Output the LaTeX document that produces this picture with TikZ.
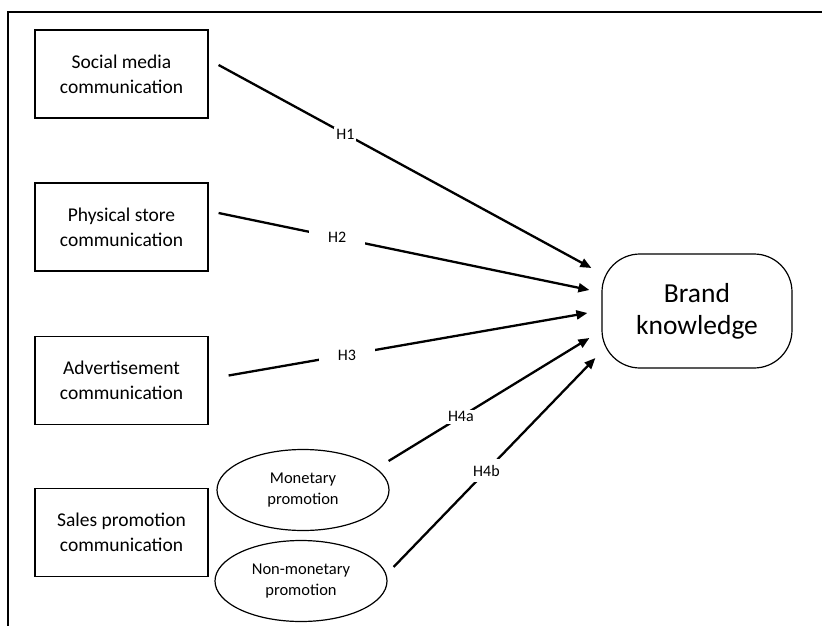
\documentclass[tikz,border=0pt]{standalone}
\usepackage{fontspec}
\setmainfont{Carlito}
\usepackage{tikz}
\usetikzlibrary{shapes.geometric,arrows.meta,positioning}
\tikzset{
  srcbox/.style={rectangle, draw, line width=1.2pt, minimum width=173pt, minimum height=88pt, align=center, font=\fontsize{19.5}{25}\selectfont},
  subell/.style={ellipse, draw, line width=1.2pt, minimum width=172pt, minimum height=81pt, inner sep=0pt, align=center, font=\fontsize{16.5}{21}\selectfont},
  outbox/.style={rectangle, draw, line width=1.2pt, rounded corners=38pt, minimum width=190pt, minimum height=114pt, align=center, font=\fontsize{27.5}{32}\selectfont},
  arrow/.style={-{Triangle[length=11pt,width=9pt]}, line width=2.3pt},
  hyp/.style={fill=white, inner sep=2pt, font=\fontsize{16}{18}\selectfont},
}
\begin{document}
\begin{tikzpicture}[x=1pt, y=-1pt]
  \useasboundingbox (0,0) rectangle (822,626);

  % Frame (only top and left edges visible)
  \draw[line width=2pt] (8,626) -- (8,12) -- (822,12);

  % Communication sources
  \node[srcbox] (sm)  at (121.5,74)    {Social media\\communication};
  \node[srcbox] (ps)  at (121.5,227)   {Physical store\\communication};
  \node[srcbox] (adv) at (121.5,380.5) {Advertisement\\communication};
  \node[srcbox] (sp)  at (121.5,532.5) {Sales promotion\\communication};

  % Sales promotion types
  \node[subell] (mp) at (303,490) {Monetary\\promotion};
  \node[subell] (nm) at (301,581) {Non-monetary\\promotion};

  % Outcome
  \node[outbox] (bk) at (697,311) {Brand\\knowledge};

  % Arrow ends next to the outcome
  \coordinate (bk-in1) at ([xshift=-10pt,yshift=43pt]bk.west);
  \coordinate (bk-in2) at ([xshift=-12pt,yshift=21pt]bk.west);
  \coordinate (bk-in3) at ([xshift=-14pt,yshift=-2pt]bk.west);
  \coordinate (bk-in4) at ([xshift=-12pt,yshift=-27pt]bk.west);
  \coordinate (bk-in5) at ([xshift=-6pt,yshift=-47pt]bk.west);

  % Hypotheses
  \draw[arrow] ([xshift=10pt,yshift=9pt]sm.east) -- node[hyp, pos=0.34] {H1} (bk-in1);
  \draw[arrow] ([xshift=10pt,yshift=14pt]ps.east) -- node[hyp, pos=0.32, inner xsep=19pt] {H2} (bk-in2);
  \draw[arrow] ([xshift=20pt,yshift=5pt]adv.east) -- node[hyp, pos=0.33, inner xsep=19pt] {H3} (bk-in3);
  \draw[arrow] ([xshift=-1pt,yshift=29pt]mp.east) -- node[hyp, pos=0.36, inner xsep=1pt] {H4a} (bk-in4);
  \draw[arrow] ([xshift=6pt,yshift=14pt]nm.east) -- node[hyp, pos=0.46, inner sep=6pt] {H4b} (bk-in5);

\end{tikzpicture}
\end{document}
